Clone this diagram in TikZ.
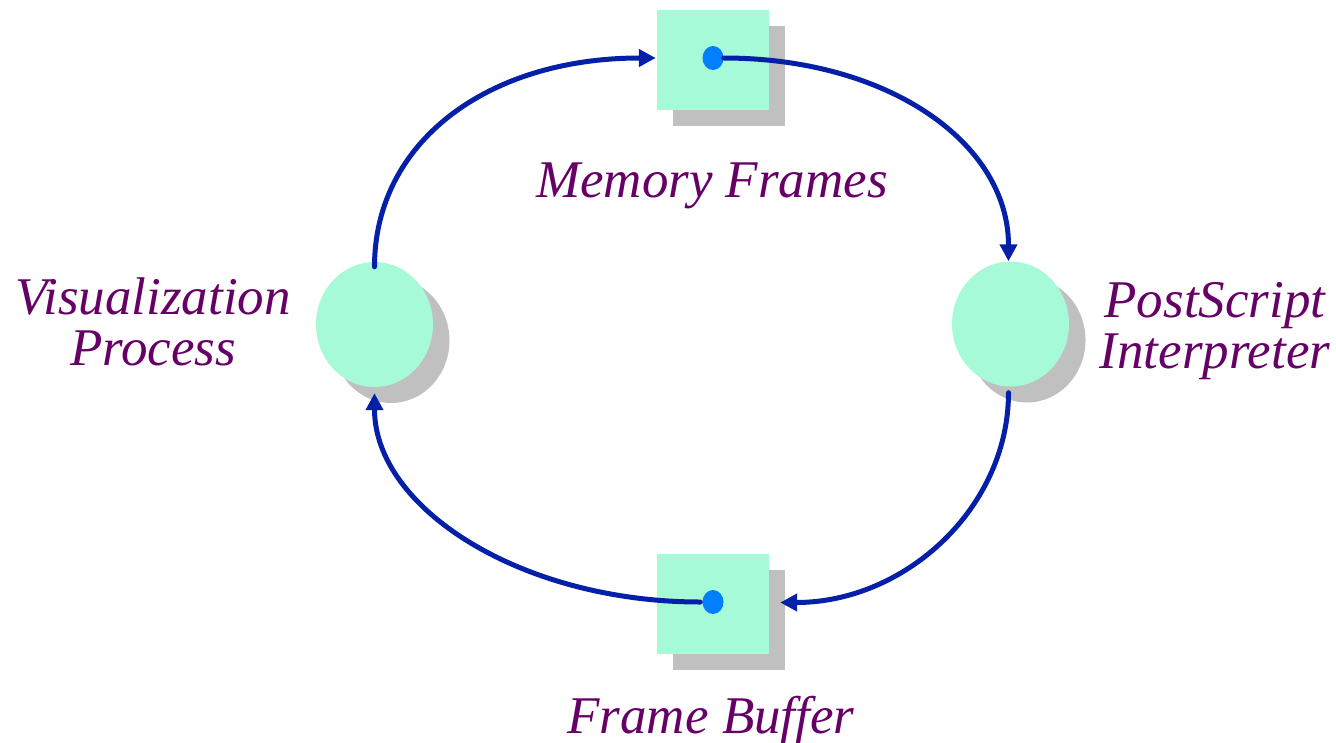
\documentclass[tikz,border=0pt]{standalone}
\usepackage{fontspec}
\setmainfont{Liberation Serif}
\usetikzlibrary{shapes.geometric,arrows.meta,calc}
\definecolor{mint}{HTML}{A6FAD8}
\definecolor{shade}{HTML}{C0C0C0}
\definecolor{dotblue}{HTML}{0080FF}
\definecolor{arrowblue}{HTML}{0520A8}
\definecolor{labelpurple}{HTML}{660066}
\tikzset{
  sq/.style={rectangle, fill=mint, minimum width=112pt, minimum height=100pt, inner sep=0pt},
  sqshadow/.style={rectangle, fill=shade, minimum width=112pt, minimum height=100pt, inner sep=0pt},
  proc/.style={ellipse, fill=mint, minimum width=117pt, minimum height=125pt, inner sep=0pt},
  procshadow/.style={ellipse, fill=shade, minimum width=117pt, minimum height=125pt, inner sep=0pt},
  dotnode/.style={ellipse, fill=dotblue, minimum width=21pt, minimum height=24pt, inner sep=0pt},
  conn/.style={draw=arrowblue, line width=5pt, line cap=round, -{Triangle[length=17pt,width=17pt]}},
  lbl/.style={text=labelpurple, font=\fontsize{53}{51}\selectfont\itshape, inner sep=0pt, align=center, anchor=base}
}
\begin{document}
\begin{tikzpicture}[x=1pt,y=-1pt]
\useasboundingbox (0,0) rectangle (1336,742);
% shadows
\node[sqshadow] (tsh) at (729,75.5) {};
\node[sqshadow] (bsh) at (729,619.5) {};
\node[procshadow] (lsh) at (391,340.5) {};
\node[procshadow] (rsh) at (1027,340) {};
% shapes
\node[sq] (ts) at (713,59.5) {};
\node[sq] (bs) at (713,603.5) {};
\node[proc] (lc) at (374.5,324.5) {};
\node[proc] (rc) at (1010.5,324) {};
\node[dotnode] (tdot) at (713,58) {};
\node[dotnode] (bdot) at (713,602) {};
% labels
\node[lbl] (lmem) at (712,197) {Memory Frames};
\node[lbl] (lfb) at (711,733) {Frame Buffer};
\node[lbl] (lvis) at (153,365) {Visualization\\Process};
\node[lbl] (lps) at (1215,368) {PostScript\\Interpreter};
% connectors
\draw[conn] ($(lc.north)+(0,5)$) .. controls +(0,-125) and +(-168,0) .. ($(ts.west)+(-1,-1.5)$);
\draw[conn] ($(tdot.east)+(0,0)$) .. controls +(165,0) and +(0,-118) .. ($(rc.north)+(-2,0)$);
\draw[conn] ($(rc.south)+(-2,6)$) .. controls +(0,115) and +(125,0) .. ($(bs.east)+(11,-1)$);
\draw[conn] ($(bdot.west)+(-2,0)$) .. controls +(-179,0) and +(0,115) .. ($(lc.south)+(0,6)$);
\end{tikzpicture}
\end{document}
